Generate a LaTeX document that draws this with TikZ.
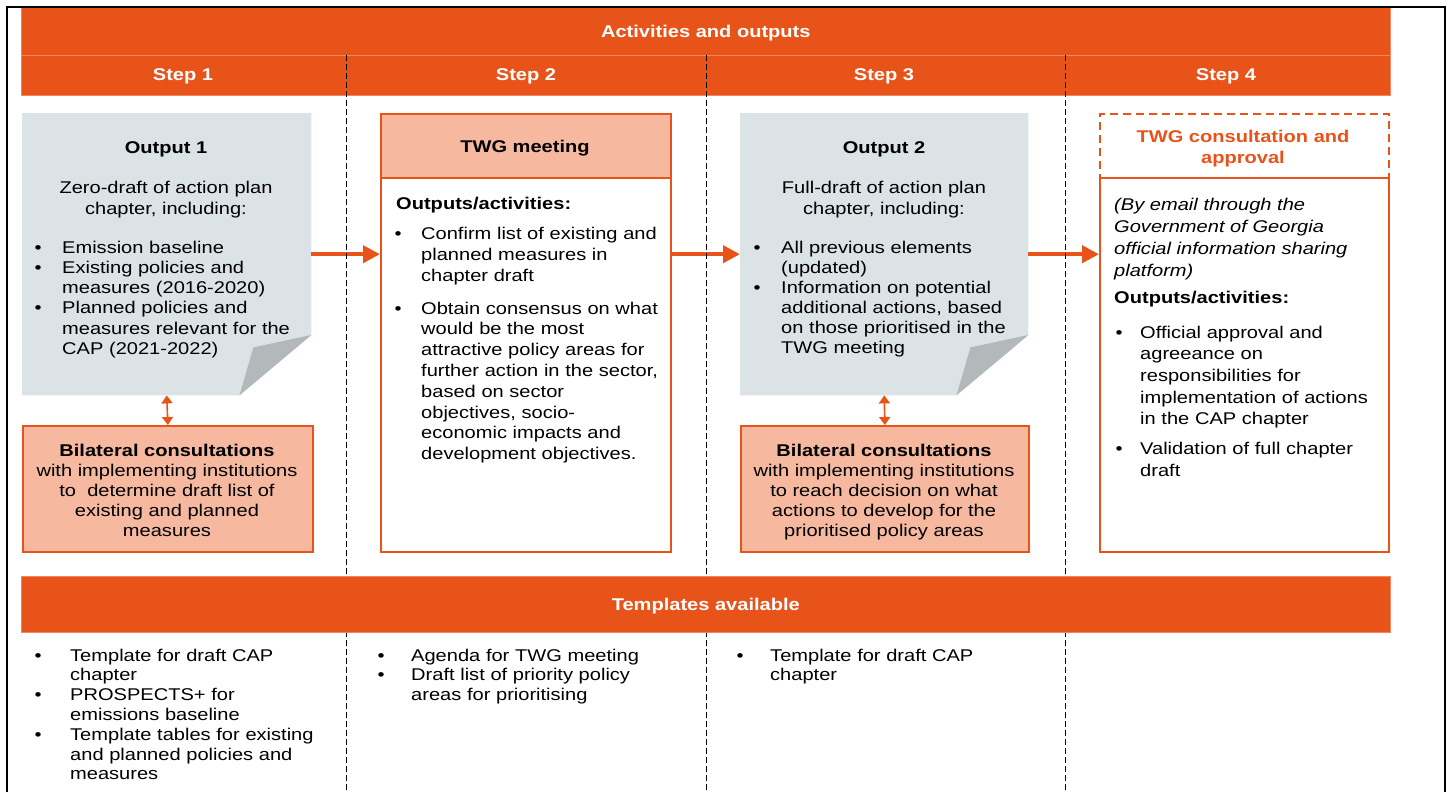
\documentclass[tikz,border=0pt]{standalone}
\usepackage{fontspec}
\setmainfont[FakeStretch=1.18]{Liberation Sans}
\usetikzlibrary{arrows.meta,calc}
\definecolor{capOrange}{HTML}{E8531A}
\definecolor{capSalmon}{HTML}{F6B9A0}
\definecolor{docGray}{HTML}{DCE3E6}
\definecolor{foldGray}{HTML}{B3B8BB}
\newcommand{\bitem}[2][27pt]{{\let\\\newline\hangindent=#1\hangafter=1\noindent\strut\makebox[#1][l]{\textbullet}#2\par}}

\begin{document}
\begin{tikzpicture}[x=1pt, y=-1pt, font=\fontsize{17}{20}\selectfont,
    bar/.style={fill=capOrange, draw=capOrange!70!white, line width=0.6pt, anchor=north west, inner sep=0pt,
        text=white, font=\fontsize{17}{20}\selectfont\bfseries, text height=12pt, text depth=0pt},
    steplabel/.style={text=white, font=\fontsize{17}{20}\selectfont\bfseries, text height=12pt, text depth=0pt, inner sep=0pt},
    docbox/.style={anchor=north west, inner sep=0pt, minimum width=289pt, minimum height=282pt},
    cbox/.style={draw=capOrange, line width=1.8pt, anchor=north west, inner sep=0pt, minimum width=290pt},
    txt/.style={inner sep=0pt, align=left, text width=340pt, anchor=north west},
    ctxt/.style={inner sep=0pt, align=center, anchor=north},
    bold/.style={font=\fontsize{17}{21}\selectfont\bfseries},
    sep/.style={dash pattern=on 6pt off 3pt, line width=0.9pt},
    flow/.style={draw=capOrange, line width=4pt, -{Triangle[length=17pt,width=17pt]}},
    link/.style={draw=capOrange, line width=1.6pt, {Triangle[length=8pt,width=11pt]}-{Triangle[length=8pt,width=11pt]}}]
    \useasboundingbox (0,0) rectangle (1450,792);

    % header bars
    \node[bar, minimum width=1369pt, minimum height=48pt] (head) at (21,7) {Activities and outputs};
    \node[bar, minimum width=1369pt, minimum height=40pt] (steps) at (21,55) {};
    \node[steplabel] (step1) at (183,75) {Step 1};
    \node[steplabel] (step2) at (526,75) {Step 2};
    \node[steplabel] (step3) at (884,75) {Step 3};
    \node[steplabel] (step4) at (1226,75) {Step 4};

    % boxes
    \node[docbox] (out1) at (22,113) {};
    \fill[docGray] (out1.north west) -- (out1.north east) -- ($(out1.north east)+(0,222)$)
        -- ($(out1.south east)+(-72,0)$) -- (out1.south west) -- cycle;
    \fill[foldGray] ($(out1.north east)+(0,222)$) -- ($(out1.south east)+(-58,-48)$) -- ($(out1.south east)+(-72,0)$) -- cycle;
    \node[cbox, fill=capSalmon, minimum height=126pt] (bil1) at (22,425) {};

    \node[cbox, minimum height=438pt] (twg) at (380,113) {};
    \node[cbox, fill=capSalmon, minimum height=64pt] (twghead) at (380,113) {};

    \node[docbox, minimum width=288pt] (out2) at (740,113) {};
    \fill[docGray] (out2.north west) -- (out2.north east) -- ($(out2.north east)+(0,222)$)
        -- ($(out2.south east)+(-72,0)$) -- (out2.south west) -- cycle;
    \fill[foldGray] ($(out2.north east)+(0,222)$) -- ($(out2.south east)+(-58,-48)$) -- ($(out2.south east)+(-72,0)$) -- cycle;
    \node[cbox, fill=capSalmon, minimum width=288pt, minimum height=126pt] (bil2) at (740,425) {};

    \node[cbox, dash pattern=on 8pt off 5pt, minimum width=289pt, minimum height=64pt] (s4head) at (1099,113) {};
    \node[cbox, minimum width=289pt, minimum height=374pt] (s4) at (1099,177) {};

    % arrows
    \draw[flow] (out1.east) -- (out1.east -| twg.west);
    \draw[flow] (twg.east |- out2.west) -- (out2.west);
    \draw[flow] (out2.east) -- (out2.east -| s4.west);
    \draw[link] (out1.south) -- (bil1.north);
    \draw[link] (out2.south) -- (bil2.north);

    % step separators
    \foreach \x in {346,706,1065}
        \draw[sep] (\x,55) -- (\x,792);

    \node[bar, minimum width=1369pt, minimum height=56pt] (tmpl) at (21,576) {Templates available};

    % step 1
    \node[ctxt, bold] (out1title) at (166,139) {\strut Output 1};
    \node[ctxt, font=\fontsize{17}{21}\selectfont] (out1desc) at (166,179) {\strut Zero-draft of action plan\\chapter, including:};
    \node[txt, font=\fontsize{17}{20.2}\selectfont] (out1list) at (34.5,239) {%
        \bitem[27.5pt]{Emission baseline}
        \bitem[27.5pt]{Existing policies and\\measures (2016-2020)}
        \bitem[27.5pt]{Planned policies and\\measures relevant for the\\CAP (2021-2022)}};
    \node[ctxt] (bil1text) at (167,442) {\strut\textbf{Bilateral consultations}\\with implementing institutions\\to\ \ determine draft list of\\existing and planned\\measures};

    % step 2
    \node[ctxt, bold] (twgtitle) at (525,138) {\strut TWG meeting};
    \node[txt, bold] (twgout) at (396,195) {\strut Outputs/activities:};
    \node[txt, font=\fontsize{17}{20.8}\selectfont] (twglist) at (394.5,225) {%
        \bitem[26.5pt]{Confirm list of existing and\\planned measures in\\chapter draft}
        \vspace{12pt}
        \bitem[26.5pt]{Obtain consensus on what\\would be the most\\attractive policy areas for\\further action in the sector,\\based on sector\\objectives, socio-\\economic impacts and\\development objectives.}};

    % step 3
    \node[ctxt, bold] (out2title) at (884,139) {\strut Output 2};
    \node[ctxt, font=\fontsize{17}{21}\selectfont] (out2desc) at (884,179) {\strut Full-draft of action plan\\chapter, including:};
    \node[txt, font=\fontsize{17}{20}\selectfont] (out2list) at (753.5,239) {%
        \bitem[27.5pt]{All previous elements\\(updated)}
        \bitem[27.5pt]{Information on potential\\additional actions, based\\on those prioritised in the\\TWG meeting}};
    \node[ctxt] (bil2text) at (884,442) {\strut\textbf{Bilateral consultations}\\with implementing institutions\\to reach decision on what\\actions to develop for the\\prioritised policy areas};

    % step 4
    \node[ctxt, bold, text=capOrange] (s4title) at (1243,128) {\strut TWG consultation and\\approval};
    \node[txt, font=\fontsize{17}{22}\selectfont\itshape] (s4note) at (1114,195) {\strut(By email through the\\Government of Georgia\\official information sharing\\platform)};
    \node[txt, bold] (s4out) at (1114,289) {\strut Outputs/activities:};
    \node[txt, font=\fontsize{17}{21.6}\selectfont] (s4list) at (1115.5,323) {%
        \bitem[24.5pt]{Official approval and\\agreeance on\\responsibilities for\\implementation of actions\\in the CAP chapter}
        \vspace{8.4pt}
        \bitem[24.5pt]{Validation of full chapter\\draft}};

    % templates
    \node[txt, font=\fontsize{17}{19.8}\selectfont] (tmpl1) at (34.5,647) {%
        \bitem[35.5pt]{Template for draft CAP\\chapter}
        \bitem[35.5pt]{PROSPECTS+ for\\emissions baseline}
        \bitem[35.5pt]{Template tables for existing\\and planned policies and\\measures}};
    \node[txt, font=\fontsize{17}{19.8}\selectfont] (tmpl2) at (377.5,647) {%
        \bitem[33.5pt]{Agenda for TWG meeting}
        \bitem[33.5pt]{Draft list of priority policy\\areas for prioritising}};
    \node[txt, font=\fontsize{17}{19.8}\selectfont] (tmpl3) at (736.5,647) {%
        \bitem[33.5pt]{Template for draft CAP\\chapter}};

    % frame
    \draw[line width=2.5pt] (7,792) -- (7,7) -- (1445,7) -- (1445,792);
\end{tikzpicture}
\end{document}
